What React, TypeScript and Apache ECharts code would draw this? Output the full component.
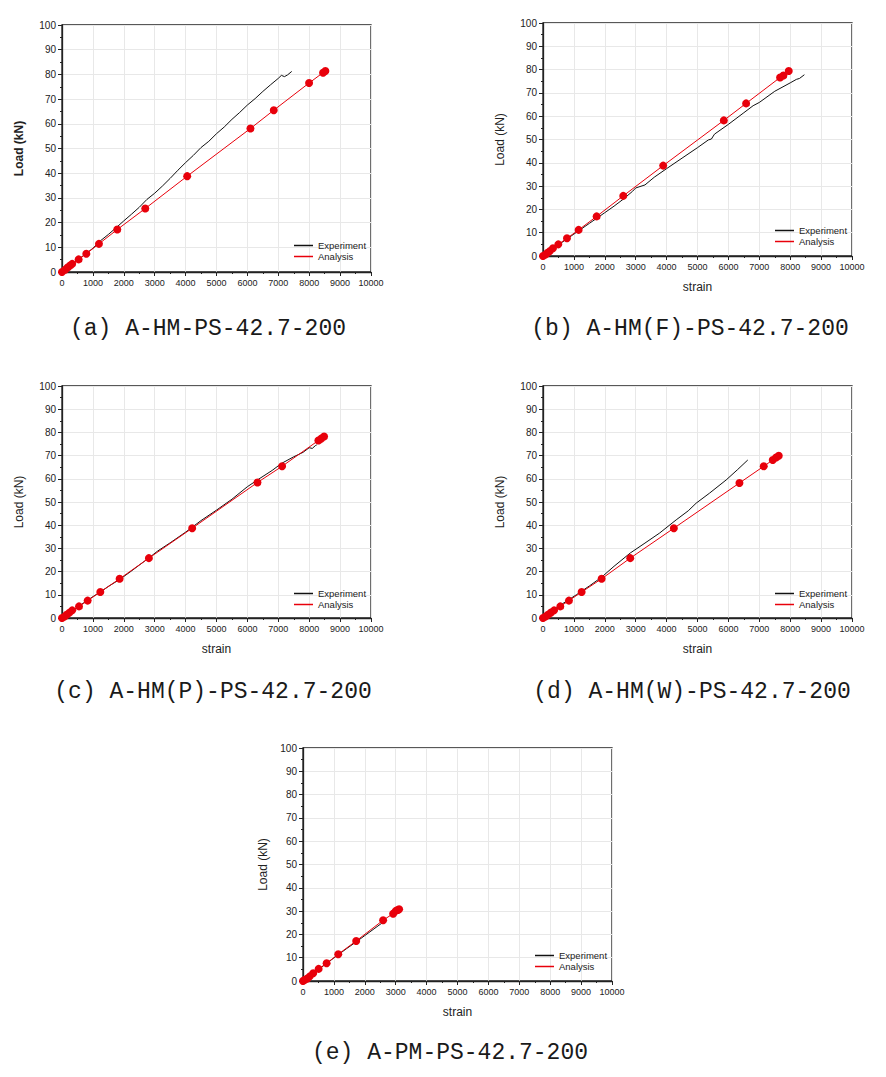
import React, { useEffect, useRef } from "react";
import * as echarts from "echarts";

// ---------- data ----------
const xTicks = [0, 1000, 2000, 3000, 4000, 5000, 6000, 7000, 8000, 9000, 10000];
const yTicks = [0, 10, 20, 30, 40, 50, 60, 70, 80, 90, 100];
const seriesNames = ["Experiment", "Analysis"];
const captions = [
  "(a) A-HM-PS-42.7-200",
  "(b) A-HM(F)-PS-42.7-200",
  "(c) A-HM(P)-PS-42.7-200",
  "(d) A-HM(W)-PS-42.7-200",
  "(e) A-PM-PS-42.7-200",
];

const expA = [
  [0, 0], [250, 2.3], [500, 4.8], [750, 7.2], [1000, 9.6], [1250, 12.7], [1500, 15.2],
  [1750, 17.9], [2000, 20.7], [2250, 23.4], [2500, 26.2], [2750, 29.4], [3000, 31.9],
  [3250, 34.8], [3500, 37.9], [3750, 41.2], [4000, 44.3], [4250, 47.2], [4500, 50.4],
  [4750, 52.9], [5000, 56.0], [5250, 58.7], [5500, 61.8], [5750, 64.6], [6000, 67.6],
  [6250, 70.2], [6500, 73.1], [6750, 75.8], [7000, 78.4], [7100, 79.6], [7200, 79.1],
  [7300, 79.8], [7435, 81.2],
];
const anaA = [
  [0, 0], [100, 0.9], [180, 1.8], [260, 2.6], [330, 3.3], [538, 5.1], [787, 7.4],
  [1196, 11.4], [1789, 17.2], [2694, 25.7], [4052, 38.8], [6099, 58.1], [6853, 65.5],
  [7996, 76.5], [8448, 80.7], [8523, 81.4],
];
const expB = [
  [0, 0], [500, 4.8], [1000, 9.4], [1500, 14.0], [2000, 18.6], [2300, 21.4], [2600, 24.4],
  [2900, 27.8], [3000, 29.2], [3300, 30.5], [3600, 33.8], [4000, 37.5], [4500, 42.0],
  [5000, 46.5], [5350, 49.8], [5450, 50.2], [5550, 52.3], [6000, 56.5], [6500, 61.5],
  [6800, 64.5], [7000, 65.9], [7500, 70.7], [8000, 74.3], [8200, 75.8], [8300, 76.2],
  [8459, 77.8],
];
const anaB = [
  [0, 0], [80, 0.6], [150, 1.4], [220, 2.1], [323, 3.3], [496, 5.0], [776, 7.6],
  [1153, 11.2], [1735, 17.0], [2597, 25.8], [3890, 38.8], [5851, 58.2], [6573, 65.5],
  [7672, 76.6], [7780, 77.5], [7953, 79.4],
];
const expC = [
  [0, 0], [500, 4.7], [1000, 9.2], [1239, 11.2], [1500, 13.6], [1864, 16.6], [2200, 19.8],
  [2500, 22.8], [2812, 25.9], [3100, 28.9], [3500, 32.4], [4000, 37.0], [4500, 42.0],
  [5000, 46.5], [5500, 51.2], [6000, 56.6], [6325, 59.5], [6800, 63.6], [7100, 66.6],
  [7500, 69.5], [7800, 71.4], [8000, 73.4], [8100, 73.1], [8200, 74.3], [8244, 74.6],
];
const anaC = [
  [0, 0], [80, 0.6], [150, 1.4], [230, 2.2], [330, 3.3], [550, 5.0], [830, 7.5],
  [1239, 11.2], [1864, 16.9], [2812, 25.8], [4213, 38.7], [6325, 58.4], [7123, 65.4],
  [8297, 76.5], [8384, 77.3], [8481, 78.2],
];
const expD = [
  [0, 0], [500, 5.0], [1078, 10.0], [1500, 13.8], [1897, 17.6], [2300, 22.3], [2823, 28.0],
  [3300, 32.3], [3772, 36.6], [4310, 42.3], [4700, 46.2], [4957, 49.5], [5388, 53.8],
  [5927, 59.5], [6300, 64.0], [6627, 68.1],
];
const anaD = [
  [0, 0], [80, 0.6], [160, 1.4], [250, 2.3], [360, 3.3], [560, 5.0], [840, 7.5],
  [1250, 11.2], [1897, 16.9], [2823, 25.8], [4235, 38.7], [6358, 58.2], [7144, 65.4],
  [7435, 68.1], [7543, 69.2], [7629, 69.9],
];
const expE = [
  [0, 0], [300, 2.9], [600, 5.9], [1000, 9.9], [1400, 13.8], [1722, 16.8], [2000, 19.5],
  [2300, 22.4], [2600, 25.3], [2700, 26.0],
];
const anaE = [
  [0, 0], [60, 0.5], [140, 1.1], [220, 2.0], [330, 3.3], [506, 5.2], [764, 7.6],
  [1141, 11.5], [1722, 17.2], [2594, 26.1], [2917, 28.9], [3003, 30.1], [3068, 30.5],
  [3111, 30.8],
];

const expSets = [expA, expB, expC, expD, expE];
const anaSets = [anaA, anaB, anaC, anaD, anaE];

// ---------- layout ----------
const grids = [
  { left: 62, top: 25, width: 309, height: 247 },
  { left: 543, top: 23, width: 309, height: 233 },
  { left: 62, top: 386, width: 309, height: 232 },
  { left: 543, top: 386, width: 309, height: 232 },
  { left: 303, top: 748, width: 309, height: 233 },
];
const showStrain = [false, true, true, true, true];
const legendPos = [
  { left: 294, top: 240 },
  { left: 775, top: 225 },
  { left: 294, top: 588 },
  { left: 775, top: 588 },
  { left: 535, top: 950 },
];
const captionPos = [
  { x: 208, y: 329 },
  { x: 690, y: 329 },
  { x: 213, y: 692 },
  { x: 692, y: 692 },
  { x: 450, y: 1053 },
];

const FONT = "Liberation Sans, Arial, sans-serif";

export default function App() {
  const ref = useRef<HTMLDivElement>(null);
  useEffect(() => {
    if (!ref.current) return;
    const chart = echarts.init(ref.current, null, { renderer: "svg" });
    const option: any = {
      animation: false,
      backgroundColor: "#ffffff",
      grid: grids.map((g) => ({
        ...g,
        show: true,
        borderColor: "#222",
        borderWidth: 1.3,
        backgroundColor: "transparent",
      })),
      xAxis: grids.map((_, i) => ({
        type: "value",
        gridIndex: i,
        min: xTicks[0],
        max: xTicks[xTicks.length - 1],
        interval: 1000,
        axisLine: { show: true, lineStyle: { color: "#222", width: 1.3 } },
        axisTick: { show: true, length: 4, lineStyle: { color: "#222" } },
        minorTick: { show: true, splitNumber: 2, length: 2, lineStyle: { color: "#222" } },
        splitLine: { show: true, lineStyle: { color: "#e8e8e8", width: 1 } },
        minorSplitLine: { show: false },
        axisLabel: {
          fontSize: 9,
          color: "#222",
          margin: 6,
          fontFamily: FONT,
          formatter: (v: number) => String(v),
        },
        name: showStrain[i] ? "strain" : "",
        nameLocation: "middle",
        nameGap: 25,
        nameTextStyle: { fontSize: 12, color: "#222", fontFamily: FONT },
      })),
      yAxis: grids.map((_, i) => ({
        type: "value",
        gridIndex: i,
        min: yTicks[0],
        max: yTicks[yTicks.length - 1],
        interval: 10,
        axisLine: { show: true, lineStyle: { color: "#222", width: 1.3 } },
        axisTick: { show: true, length: 4, lineStyle: { color: "#222" } },
        minorTick: { show: true, splitNumber: 2, length: 2, lineStyle: { color: "#222" } },
        splitLine: { show: true, lineStyle: { color: "#e8e8e8", width: 1 } },
        axisLabel: {
          fontSize: 10,
          color: "#222",
          margin: 6,
          fontFamily: FONT,
          formatter: (v: number) => String(v),
        },
        name: "Load (kN)",
        nameLocation: "middle",
        nameGap: i === 4 ? 34 : 37,
        nameTextStyle: {
          fontSize: 12,
          color: "#222",
          fontFamily: FONT,
          fontWeight: i === 0 ? "bold" : "normal",
        },
      })),
      legend: legendPos.map((p) => ({
        ...p,
        orient: "vertical",
        data: seriesNames,
        icon: "rect",
        itemWidth: 19,
        itemHeight: 1.5,
        itemGap: 0,
        padding: 0,
        selectedMode: false,
        textStyle: { fontSize: 9.5, color: "#222", lineHeight: 11, fontFamily: FONT },
      })),
      series: grids.flatMap((_, i) => [
        {
          name: seriesNames[0],
          type: "line",
          xAxisIndex: i,
          yAxisIndex: i,
          data: expSets[i],
          showSymbol: false,
          symbol: "none",
          color: "#111",
          lineStyle: { color: "#111", width: 1 },
          z: 3,
        },
        {
          name: seriesNames[1],
          type: "line",
          xAxisIndex: i,
          yAxisIndex: i,
          data: anaSets[i],
          symbol: "circle",
          symbolSize: 8,
          color: "#e8000b",
          itemStyle: { color: "#e8000b" },
          lineStyle: { color: "#e8000b", width: 1 },
          z: 4,
        },
      ]),
      graphic: captions.map((c, i) => ({
        type: "text",
        x: captionPos[i].x,
        y: captionPos[i].y,
        style: {
          text: c,
          fill: "#1a1a1a",
          fontSize: 23,
          fontFamily: "Liberation Mono, monospace",
          textAlign: "center",
          textVerticalAlign: "middle",
        },
      })),
    };
    chart.setOption(option);
    return () => chart.dispose();
  }, []);
  return (
    <div
      ref={ref}
      style={{ position: "absolute", left: 0, top: 0, width: 886, height: 1077 }}
    />
  );
}
